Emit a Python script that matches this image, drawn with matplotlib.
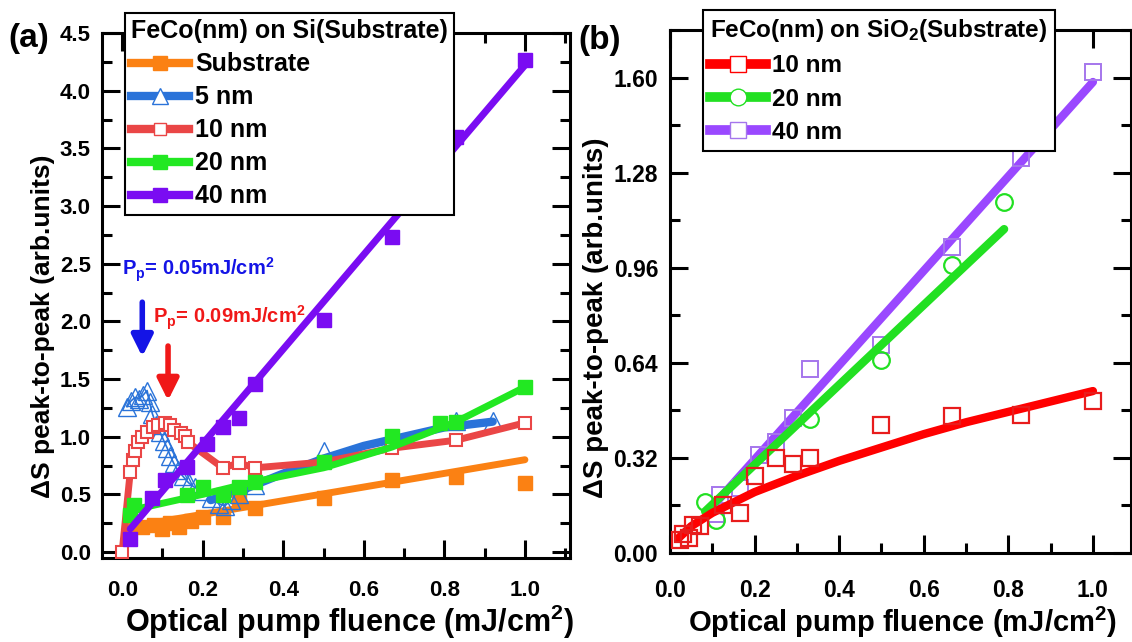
import numpy as np
import matplotlib
matplotlib.use('Agg')
import matplotlib.pyplot as plt
from matplotlib.lines import Line2D
from matplotlib.ticker import MultipleLocator, FormatStrFormatter

plt.rcParams['font.family'] = 'Liberation Sans'
plt.rcParams['font.weight'] = 'bold'
plt.rcParams['mathtext.fontset'] = 'custom'
plt.rcParams['mathtext.rm'] = 'Liberation Sans:bold'
plt.rcParams['mathtext.it'] = 'Liberation Sans:bold'
plt.rcParams['mathtext.bf'] = 'Liberation Sans:bold'
plt.rcParams['mathtext.default'] = 'bf'

# ---- panel (a): FeCo on Si ----
sub_x = [0.02, 0.05, 0.08, 0.10, 0.12, 0.14, 0.17, 0.20, 0.25, 0.29, 0.33, 0.50, 0.67, 0.83, 1.00]
sub_y = [0.22, 0.22, 0.23, 0.20, 0.25, 0.22, 0.27, 0.30, 0.30, 0.47, 0.38, 0.47, 0.62, 0.65, 0.60]
sub_fit_x = [0.02, 1.00]
sub_fit_y = [0.22, 0.80]

nm5_x = [0.012, 0.022, 0.032, 0.042, 0.052, 0.062, 0.068, 0.075, 0.085, 0.094, 0.104, 0.112,
         0.120, 0.128, 0.138, 0.150, 0.165, 0.180, 0.200, 0.220, 0.240, 0.255, 0.270, 0.29, 0.33,
         0.50, 0.67, 0.83, 0.92]
nm5_y = [1.26, 1.31, 1.34, 1.33, 1.36, 1.40, 1.30, 1.20, 1.10, 1.04, 0.96, 0.90,
         0.83, 0.77, 0.71, 0.66, 0.60, 0.56, 0.53, 0.47, 0.42, 0.40, 0.45, 0.50, 0.58,
         0.88, 0.98, 1.14, 1.14]
nm5_fit_x = [0.22, 0.30, 0.40, 0.50, 0.60, 0.70, 0.80, 0.92]
nm5_fit_y = [0.45, 0.54, 0.68, 0.81, 0.92, 1.00, 1.08, 1.13]

nm10_x = [0.0, 0.020, 0.027, 0.032, 0.040, 0.050, 0.062, 0.077, 0.090, 0.107, 0.120, 0.130,
          0.145, 0.156, 0.164, 0.25, 0.29, 0.33, 0.50, 0.67, 0.83, 1.00]
nm10_y = [0.0, 0.69, 0.80, 0.88, 0.95, 1.00, 1.04, 1.08, 1.10, 1.12, 1.10, 1.06,
          1.03, 1.01, 0.95, 0.73, 0.77, 0.73, 0.78, 0.90, 0.97, 1.12]

nm20_x = [0.02, 0.03, 0.16, 0.20, 0.25, 0.29, 0.33, 0.50, 0.67, 0.79, 0.83, 1.00]
nm20_y = [0.32, 0.41, 0.49, 0.56, 0.49, 0.56, 0.61, 0.78, 1.01, 1.12, 1.13, 1.43]
nm20_fit_x = [0.02, 0.20, 0.33, 0.50, 0.67, 0.83, 1.00]
nm20_fit_y = [0.36, 0.50, 0.61, 0.73, 0.91, 1.13, 1.43]

nm40_x = [0.02, 0.074, 0.107, 0.16, 0.21, 0.25, 0.29, 0.33, 0.50, 0.67, 0.83, 1.00]
nm40_y = [0.11, 0.47, 0.62, 0.74, 0.94, 1.08, 1.16, 1.46, 2.01, 2.73, 3.60, 4.27]
nm40_fit_x = [0.02, 1.00]
nm40_fit_y = [0.20, 4.22]

# ---- panel (b): FeCo on SiO2 ----
b10_x = [0.024, 0.030, 0.045, 0.054, 0.070, 0.125, 0.165, 0.20, 0.25, 0.29, 0.33, 0.50, 0.667, 0.83, 1.00]
b10_y = [0.045, 0.065, 0.050, 0.095, 0.090, 0.160, 0.135, 0.26, 0.32, 0.30, 0.32, 0.43, 0.46, 0.465, 0.51]
b10_fit_x = [0.02, 0.05, 0.10, 0.15, 0.20, 0.30, 0.40, 0.50, 0.60, 0.70, 0.80, 0.90, 1.00]
b10_fit_y = [0.05, 0.09, 0.135, 0.17, 0.205, 0.26, 0.31, 0.355, 0.40, 0.44, 0.475, 0.51, 0.545]

b20_x = [0.083, 0.108, 0.33, 0.50, 0.667, 0.79]
b20_y = [0.17, 0.11, 0.45, 0.65, 0.97, 1.18]
b20_fit_x = [0.083, 0.79]
b20_fit_y = [0.14, 1.09]

b40_x = [0.108, 0.118, 0.165, 0.21, 0.25, 0.29, 0.33, 0.50, 0.667, 0.83, 1.00]
b40_y = [0.13, 0.195, 0.22, 0.33, 0.375, 0.455, 0.62, 0.70, 1.03, 1.33, 1.62]
b40_fit_x = [0.09, 1.00]
b40_fit_y = [0.14, 1.585]

c_sub = '#fb8113'
c_5 = '#2a73d9'
c_10 = '#ea4646'
c_20 = '#22e822'
c_40 = '#7a0cf2'
cb_10 = '#ff0000'
cb_20 = '#22e022'
cb_40 = '#9a48ff'
cb_40m = '#a576ec'

fig = plt.figure(figsize=(11.32, 6.42), dpi=100)
axa = fig.add_axes([102/1132, 1-558/642, 468/1132, 525/642])
axb = fig.add_axes([670/1132, 1-553/642, 461/1132, 523/642])


def style_axes(ax, ymaj, ymin, yfmt, xpad, ypad, lsize):
    ax.xaxis.set_major_locator(MultipleLocator(0.2))
    ax.xaxis.set_minor_locator(MultipleLocator(0.1))
    ax.yaxis.set_major_locator(MultipleLocator(ymaj))
    ax.yaxis.set_minor_locator(MultipleLocator(ymin))
    ax.xaxis.set_major_formatter(FormatStrFormatter('%.1f'))
    ax.yaxis.set_major_formatter(FormatStrFormatter(yfmt))
    ax.tick_params(which='both', direction='in', top=True, right=True, width=2.2)
    ax.tick_params(which='major', length=13, labelsize=lsize)
    ax.tick_params(which='minor', length=7)
    ax.tick_params(axis='x', pad=xpad)
    ax.tick_params(axis='y', pad=ypad)
    for s in ax.spines.values():
        s.set_linewidth(2.2)


# panel (a)
axa.plot(sub_fit_x, sub_fit_y, '-', color=c_sub, lw=5, solid_capstyle='round', zorder=2)
axa.plot(sub_x, sub_y, 's', color=c_sub, ms=9.5, zorder=3)

axa.plot(nm5_x[:23], nm5_y[:23], '-', color=c_5, lw=1.2, zorder=2)
axa.plot(nm5_fit_x, nm5_fit_y, '-', color=c_5, lw=6, solid_capstyle='round', zorder=2)
axa.plot(nm5_x, nm5_y, '^', mfc='none', mec=c_5, mew=1.0, ms=13, zorder=3)

axa.plot(nm10_x, nm10_y, '-', color=c_10, lw=5, solid_capstyle='round', zorder=3)
axa.plot(nm10_x, nm10_y, 's', mfc='white', mec=c_10, mew=1.5, ms=9, zorder=4)

axa.plot(nm20_fit_x, nm20_fit_y, '-', color=c_20, lw=5, solid_capstyle='round', zorder=4)
axa.plot(nm20_x, nm20_y, 's', color=c_20, ms=9.5, zorder=5)

axa.plot(nm40_fit_x, nm40_fit_y, '-', color=c_40, lw=5, solid_capstyle='round', zorder=5)
axa.plot(nm40_x, nm40_y, 's', color=c_40, ms=9.5, zorder=6)

axa.set_xlim(-0.05, 1.112)
axa.set_ylim(-0.052, 4.5)
style_axes(axa, 0.5, 0.25, '%.1f', 16, 8, 16)

axa.annotate('', xy=(0.05, 1.67), xytext=(0.05, 2.19),
             arrowprops=dict(arrowstyle='-|>', color='#1414e6', lw=4, mutation_scale=32))
axa.annotate('', xy=(0.114, 1.29), xytext=(0.114, 1.81),
             arrowprops=dict(arrowstyle='-|>', color='#f01818', lw=4, mutation_scale=32))
axa.text(0.0, 2.45, r'P$_p$= 0.05mJ/cm$^2$', color='#1414e6', fontsize=14.5,
         fontweight='bold', va='center', ha='left', zorder=8)
axa.text(0.077, 2.03, r'P$_p$= 0.09mJ/cm$^2$', color='#f01818', fontsize=14.5,
         fontweight='bold', va='center', ha='left', zorder=8)

axa.set_xlabel(r'Optical pump fluence (mJ/cm$^2$)', fontsize=22, fontweight='bold')
axa.set_ylabel('ΔS peak-to-peak (arb.units)', fontsize=19, fontweight='bold')
axa.xaxis.set_label_coords(0.528, -0.086)
axa.yaxis.set_label_coords(-0.1, 0.442)

handles_a = [
    Line2D([], [], color=c_sub, lw=6, marker='s', ms=9.5),
    Line2D([], [], color=c_5, lw=6, marker='^', mfc='white', mec=c_5, ms=12),
    Line2D([], [], color=c_10, lw=6, marker='s', mfc='white', mec=c_10, ms=9),
    Line2D([], [], color=c_20, lw=6, marker='s', ms=9.5),
    Line2D([], [], color=c_40, lw=6, marker='s', ms=9.5),
]
labels_a = ['Substrate', '5 nm', '10 nm', '20 nm', '40 nm']
leg = axa.legend(handles_a, labels_a, title='FeCo(nm) on Si(Substrate)', loc='upper left',
                 bbox_to_anchor=(125/1132, 1-13/642), bbox_transform=fig.transFigure,
                 prop=dict(size=18, weight='bold'), title_fontproperties=dict(size=18, weight='bold'),
                 frameon=True, fancybox=False, edgecolor='black', framealpha=1,
                 borderaxespad=0, borderpad=0.25, labelspacing=0.36, handlelength=2.3,
                 handletextpad=0.25)
leg._legend_box.align = 'left'
leg.get_frame().set_linewidth(1.5)
leg.set_zorder(10)

# panel (b)
axb.plot(b40_fit_x, b40_fit_y, '-', color=cb_40, lw=6, solid_capstyle='round', zorder=2)
axb.plot(b40_x, b40_y, 's', mfc='none', mec=cb_40m, mew=1.4, ms=12, zorder=3)
axb.plot(b20_fit_x, b20_fit_y, '-', color=cb_20, lw=6, solid_capstyle='round', zorder=4)
axb.plot(b20_x, b20_y, 'o', mfc='none', mec=cb_20, mew=1.6, ms=12, zorder=5)
axb.plot(b10_fit_x, b10_fit_y, '-', color=cb_10, lw=6, solid_capstyle='round', zorder=6)
axb.plot(b10_x, b10_y, 's', mfc='none', mec='#e81c1c', mew=1.6, ms=12, zorder=7)

axb.set_xlim(0, 1.09)
axb.set_ylim(0, 1.76)
style_axes(axb, 0.32, 0.16, '%.2f', 19, 8.5, 16.5)

axb.set_xlabel(r'Optical pump fluence (mJ/cm$^2$)', fontsize=21, fontweight='bold')
axb.set_ylabel('ΔS peak-to-peak (arb.units)', fontsize=20, fontweight='bold')
axb.xaxis.set_label_coords(0.505, -0.099)
axb.yaxis.set_label_coords(-0.132, 0.449)

handles_b = [
    Line2D([], [], color=cb_10, lw=7, marker='s', mfc='white', mec=cb_10, ms=12),
    Line2D([], [], color=cb_20, lw=7, marker='o', mfc='white', mec=cb_20, ms=12),
    Line2D([], [], color=cb_40, lw=7, marker='s', mfc='white', mec=cb_40m, ms=12),
]
labels_b = ['10 nm', '20 nm', '40 nm']
legb = axb.legend(handles_b, labels_b, title=r'FeCo(nm) on SiO$_2$(Substrate)', loc='upper left',
                  bbox_to_anchor=(703/1132, 1-10/642), bbox_transform=fig.transFigure,
                  prop=dict(size=17.5, weight='bold'), title_fontproperties=dict(size=17.5, weight='bold'),
                  frameon=True, fancybox=False, edgecolor='black', framealpha=1,
                  borderaxespad=0, borderpad=0.3, labelspacing=0.42, handlelength=2.3,
                  handletextpad=0.25)
legb._legend_box.align = 'left'
legb.get_frame().set_linewidth(1.5)
legb.set_zorder(10)

fig.text(8/1132, 1-38/642, '(a)', fontsize=24, fontweight='bold', va='center', ha='left')
fig.text(578/1132, 1-40/642, '(b)', fontsize=24, fontweight='bold', va='center', ha='left')

fig.savefig('out.png', dpi=100)
